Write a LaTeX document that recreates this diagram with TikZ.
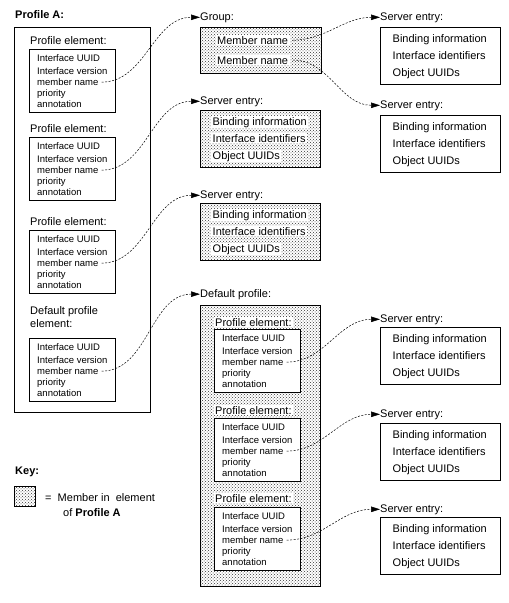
\documentclass[tikz,border=0pt]{standalone}
\usepackage{fontspec}
\setmainfont{Liberation Sans}
\usetikzlibrary{arrows.meta,patterns}

\tikzset{
  frame/.style={draw,line width=0.9pt,anchor=north west,inner sep=0},
  member/.style={frame,pattern=crosshatch dots,pattern color=black!80},
  lbl/.style={anchor=base west,inner sep=0,font=\fontsize{11}{13}\selectfont},
  txt/.style={anchor=base west,fill=white,inner xsep=1.5pt,inner ysep=1pt,
    font=\fontsize{11}{13}\selectfont},
  small/.style={anchor=base west,inner sep=0,font=\fontsize{9.5}{11}\selectfont},
  link/.style={line width=0.5pt,dash pattern=on 2pt off 1.5pt,shorten <=3pt,
    -{Triangle[length=9pt,width=5.5pt]}}
}

% profile element box: name, x, top y
\newcommand{\elembox}[3]{%
  \node[frame,fill=white,minimum width=86pt,minimum height=63pt] (#1) at (#2,#3) {};
  \node[small] (#1-u) at (#2+8,#3+12.5) {Interface UUID};
  \node[small] (#1-v) at (#2+8,#3+25.5) {Interface version};
  \node[small] (#1-m) at (#2+8,#3+36.5) {member name};
  \node[small] (#1-p) at (#2+8,#3+47.5) {priority};
  \node[small] (#1-a) at (#2+8,#3+58.5) {annotation};
}
% server entry box: name, style, x, top y
\newcommand{\entrybox}[4]{%
  \node[#2,minimum width=120pt,minimum height=57pt] (#1) at (#3,#4) {};
  \node[txt] (#1-b) at (#3+11,#4+15) {Binding information};
  \node[txt] (#1-i) at (#3+11,#4+32) {Interface identifiers};
  \node[txt] (#1-o) at (#3+11,#4+49) {Object UUIDs};
}

\begin{document}
\begin{tikzpicture}[x=1pt,y=-1pt]
  \useasboundingbox (0,0) rectangle (509,603);

  % Profile A
  \node[lbl,font=\fontsize{11}{13}\selectfont\bfseries] (profA-l) at (15,18) {Profile A:};
  \node[frame,minimum width=136pt,minimum height=385pt] (profA) at (14,27) {};
  \node[lbl] (pe1-l) at (30,44) {Profile element:};
  \elembox{pe1}{29}{49}
  \node[lbl] (pe2-l) at (30,132) {Profile element:};
  \elembox{pe2}{29}{137}
  \node[lbl] (pe3-l) at (30,225) {Profile element:};
  \elembox{pe3}{29}{230}
  \node[lbl,align=left,anchor=north west] (dpe-l) at (30,306) {Default profile\\element:};
  \elembox{dpe}{29}{338}

  % middle column
  \node[lbl] (grp-l) at (200,20) {Group:};
  \node[member,minimum width=121pt,minimum height=46pt] (grp) at (200,27) {};
  \node[txt] (grp-m1) at (215.5,44) {Member name};
  \node[txt] (grp-m2) at (215.5,64) {Member name};
  \node[lbl] (se1-l) at (200,104) {Server entry:};
  \entrybox{se1}{member}{200}{110}
  \node[lbl] (se2-l) at (200,198) {Server entry:};
  \entrybox{se2}{member}{200}{203}
  \node[lbl] (dp-l) at (200,297) {Default profile:};
  \node[member,minimum width=120pt,minimum height=281pt] (dp) at (200,305) {};
  \node[txt] (de1-l) at (213.5,326) {Profile element:};
  \elembox{de1}{214}{329}
  \node[txt] (de2-l) at (213.5,414) {Profile element:};
  \elembox{de2}{214}{418}
  \node[txt] (de3-l) at (213.5,502) {Profile element:};
  \elembox{de3}{214}{507}

  % right column
  \node[lbl] (sr1-l) at (380,20) {Server entry:};
  \entrybox{sr1}{frame}{380}{27}
  \node[lbl] (sr2-l) at (380,108) {Server entry:};
  \entrybox{sr2}{frame}{380}{115}
  \node[lbl] (sr3-l) at (380,322) {Server entry:};
  \entrybox{sr3}{frame}{380}{327}
  \node[lbl] (sr4-l) at (380,417) {Server entry:};
  \entrybox{sr4}{frame}{380}{423}
  \node[lbl] (sr5-l) at (380,512) {Server entry:};
  \entrybox{sr5}{frame}{380}{517}

  % links
  \foreach \from/\to in {pe1-m/grp-l, pe2-m/se1-l, pe3-m/se2-l, dpe-m/dp-l,
      grp-m1/sr1-l, grp-m2/sr2-l, de1-m/sr3-l, de2-m/sr4-l, de3-m/sr5-l}
    \draw[link] (\from.east) to[out=0,in=180] (\to.west);

  % key
  \node[lbl,font=\fontsize{11}{13}\selectfont\bfseries] (key) at (15,474) {Key:};
  \node[member,minimum width=21pt,minimum height=20pt] (swatch) at (14,486) {};
  \node[lbl] (key-eq) at (45,501) {=\ \ Member in\ \ element};
  \node[lbl] (key-of) at (63,516) {of \textbf{Profile A}};
\end{tikzpicture}
\end{document}
